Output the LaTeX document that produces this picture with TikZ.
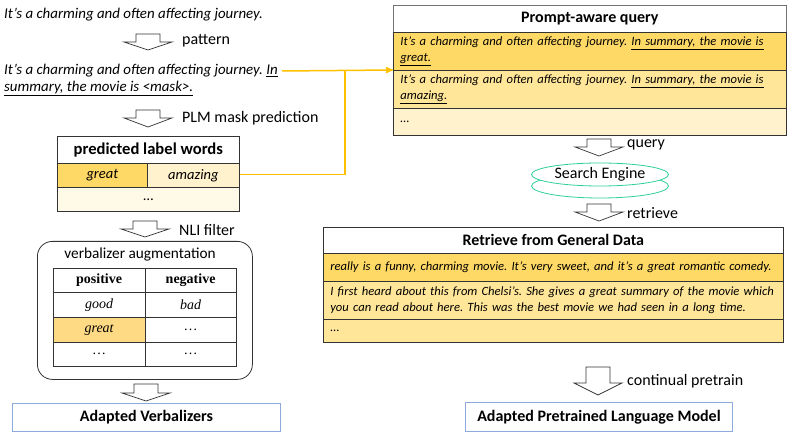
\documentclass[tikz,border=0pt]{standalone}
\usepackage{fontspec}
\setmainfont{Carlito}
\newfontfamily\timesfont{Liberation Serif}
\usepackage{tikz}
\usetikzlibrary{arrows, shapes, positioning, fit}
\definecolor{gold}{HTML}{FFC000}
\definecolor{ydark}{HTML}{FFD966}
\definecolor{ymid}{HTML}{FFE699}
\definecolor{ylight}{HTML}{FFF2CC}
\definecolor{ypale}{HTML}{FFF9E8}
\definecolor{ygreat}{HTML}{FFDA84}
\definecolor{segreen}{HTML}{2DD196}
\definecolor{boxblue}{HTML}{8EA9DB}
\frenchspacing
\newcommand{\bigfont}{\fontsize{16}{19}\selectfont}
\newcommand{\bodyfont}{\fontsize{14.9}{17}\selectfont}
\newcommand{\rowfont}{\fontsize{12.6}{15.8}\selectfont}
\newcommand{\cellfont}{\fontsize{14.5}{17}\selectfont}
% hollow down arrow: x, top y, shaft height, total height
\newcommand{\hollowdown}[4]{%
  \draw[hollow] (#1-12,#2) -- (#1+12,#2) -- (#1+12,#2+#3) -- (#1+24,#2+#3)
    -- (#1,#2+#4) -- (#1-24,#2+#3) -- (#1-12,#2+#3) -- cycle;}

\begin{document}
\begin{tikzpicture}[x=1pt,y=-1pt,>=stealth',
  hollow/.style={draw=black!80, line width=0.7pt, fill=white},
  cell/.style={draw=black!80, line width=0.7pt, anchor=north west,
  inner sep=0pt, font=\cellfont},
  rowcell/.style={cell, align=left, inner xsep=7pt, font=\rowfont},
  head/.style={cell, font=\bigfont\bfseries, fill=white},
  vcell/.style={cell, minimum width=91.5pt, minimum height=24.5pt,
  font=\timesfont\fontsize{14}{16}\selectfont},
  lbl/.style={anchor=west, inner sep=0pt, font=\bigfont},
  result/.style={draw=boxblue, line width=0.9pt, anchor=north west,
  inner sep=0pt, font=\bigfont\bfseries},
  link/.style={draw=gold, line width=1.5pt}]
  \useasboundingbox (0,0) rectangle (789,435);

  % left column
  \node[anchor=west, inner sep=0pt, font=\bodyfont\itshape] (sent) at (4,15)
    {It’s a charming and often affecting journey.};
  \hollowdown{148}{34}{8}{16}
  \node[lbl] (pattern) at (182,41) {pattern};
  \node[anchor=north west, inner sep=0pt, align=left, font=\bodyfont\itshape] (prompt) at (4,64)
    {It’s a charming and often affecting journey. \underline{In}\\
     \underline{summary, the movie is <mask>.}};
  \coordinate (inend) at (282,71);
  \hollowdown{148}{110}{8}{17}
  \node[lbl] (plm) at (182,118) {PLM mask prediction};

  \node[head, minimum width=182pt, minimum height=27pt, font=\fontsize{16.6}{19}\selectfont\bfseries] (plwhead) at (57,136) {predicted label words};
  \node[cell, fill=ydark, minimum width=90pt, minimum height=24pt, font=\cellfont\itshape] (great) at (57,163) {great};
  \node[cell, fill=ylight, minimum width=92pt, minimum height=24pt, font=\cellfont\itshape] (amazing) at (147,163) {amazing};
  \node[cell, fill=ypale, minimum width=182pt, minimum height=24pt] (plwdots) at (57,187) {…};

  \hollowdown{145}{221}{8}{16}
  \node[lbl] (nli) at (179,230) {NLI filter};

  \node[draw=black!80, line width=0.8pt, rounded corners=15pt, anchor=north west,
    minimum width=215pt, minimum height=138pt] (vbox) at (37,241) {};
  \node[font=\fontsize{15.3}{18}\selectfont, inner sep=0pt] (vtitle) at (140,255) {verbalizer augmentation};
  \node[vcell, font=\timesfont\fontsize{14}{16}\selectfont\bfseries] (pos) at (53,268) {positive};
  \node[vcell, font=\timesfont\fontsize{14}{16}\selectfont\bfseries] (neg) at (144.5,268) {negative};
  \node[vcell, font=\timesfont\fontsize{14}{16}\selectfont\itshape] (good) at (53,292.5) {good};
  \node[vcell, font=\timesfont\fontsize{14}{16}\selectfont\itshape] (bad) at (144.5,292.5) {bad};
  \node[vcell, fill=ygreat, font=\timesfont\fontsize{14}{16}\selectfont\itshape] (vgreat) at (53,317) {great};
  \node[vcell] (negdots) at (144.5,317) {…};
  \node[vcell] (posmore) at (53,341.5) {\dots};
  \node[vcell] (negmore) at (144.5,341.5) {\dots};

  \hollowdown{146}{384}{9}{17}
  \node[result, minimum width=268pt, minimum height=28pt] (adverb) at (12,403) {Adapted Verbalizers};

  % right column
  \node[head, minimum width=393pt, minimum height=27pt, draw=black!55] (qhead) at (393,5) {Prompt-aware query};
  \node[rowcell, fill=ydark, text width=379pt, minimum height=38pt] (qgreat) at (393,32)
    {\itshape It’s a charming and often affecting journey. \underline{In summary, the movie is}\\
     \itshape\underline{great.}};
  \node[rowcell, fill=ymid, text width=379pt, minimum height=38pt] (qamazing) at (393,70)
    {\itshape It’s a charming and often affecting journey. \underline{In summary, the movie is}\\
     \itshape\underline{amazing.}};
  \node[rowcell, fill=ylight, text width=379pt, minimum height=27pt] (qdots) at (393,108) {…};

  \hollowdown{599}{139}{8}{17}
  \node[lbl] (query) at (627,145) {query};
  \node[ellipse, draw=segreen, line width=0.8pt, minimum width=137pt, minimum height=24pt,
    inner sep=0pt] (sebase) at (600,186) {};
  \node[ellipse, draw=segreen, line width=0.8pt, fill=white, minimum width=137pt, minimum height=23pt,
    inner sep=0pt, font=\bigfont] (se) at (600,174.5) {Search Engine};

  \hollowdown{599}{204}{8}{17}
  \node[lbl] (retrieve) at (627,213) {retrieve};

  \node[head, minimum width=460pt, minimum height=26pt] (rhead) at (323,227) {Retrieve from General Data};
  \node[rowcell, fill=ydark, text width=446pt, minimum height=28pt] (rfunny) at (323,253)
    {\itshape really is a funny, charming movie. It’s very sweet, and it’s a great romantic comedy.};
  \node[rowcell, fill=ymid, text width=446pt, minimum height=38pt] (rchelsi) at (323,281)
    {\itshape I first heard about this from Chelsi’s. She gives a great summary of the movie which\\
     \itshape you can read about here. This was the best movie we had seen in a long time.};
  \node[rowcell, fill=ymid, text width=446pt, minimum height=23pt] (rdots) at (323,319) {…};

  \hollowdown{598}{367}{16}{28}
  \node[lbl] (pretrain) at (627,381) {continual pretrain};
  \node[result, minimum width=267pt, minimum height=29pt] (adplm) at (465,402) {Adapted Pretrained Language Model};

  % prompt and label words feed the query
  \coordinate (junct) at (345,71);
  \draw[link, ->] (inend) -- (qamazing.north west);
  \draw[link] ([yshift=1pt]amazing.east) -| (junct);
\end{tikzpicture}
\end{document}
